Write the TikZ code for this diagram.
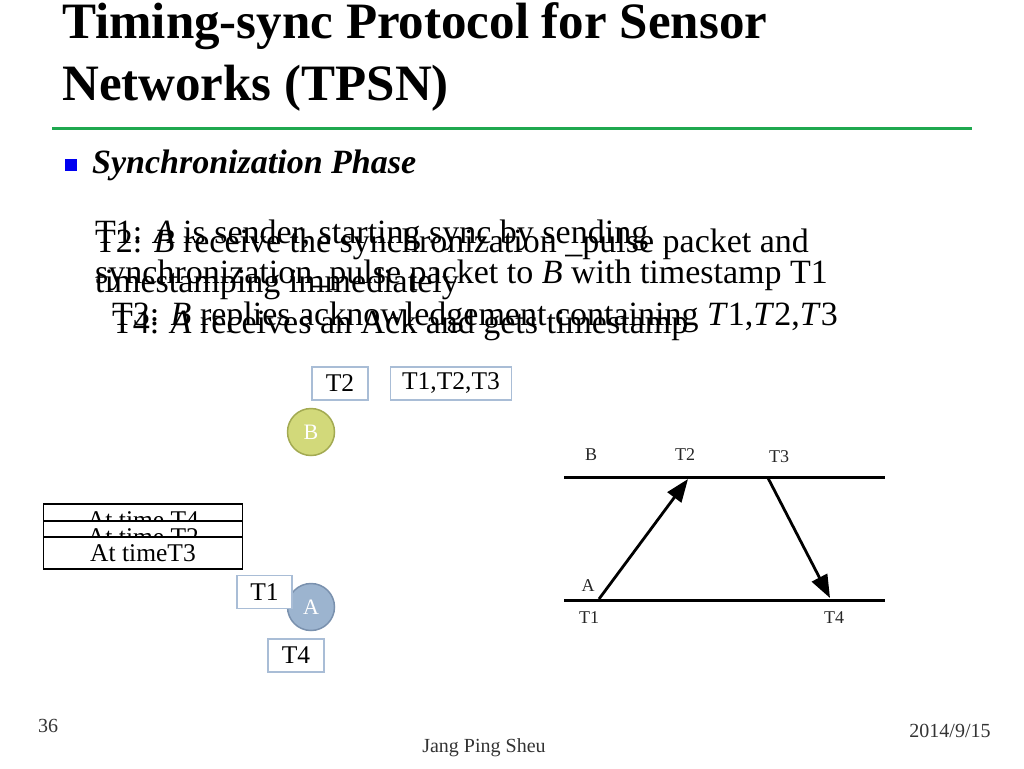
\documentclass[tikz,border=0pt]{standalone}
\usepackage{fontspec}
\setmainfont{Liberation Serif}
\usetikzlibrary{arrows.meta}
\definecolor{titlegreen}{HTML}{1FA84F}
\definecolor{bulletblue}{HTML}{0000F0}
\definecolor{boxblue}{HTML}{A9BDD6}
\definecolor{bfill}{HTML}{D2D97A}
\definecolor{bdraw}{HTML}{A3AA52}
\definecolor{afill}{HTML}{9CB4CF}
\definecolor{adraw}{HTML}{7A91AE}
\begin{document}
\begin{tikzpicture}[x=1pt,y=-1pt,
  titletxt/.style={anchor=base west, inner sep=0pt, font=\bfseries\fontsize{51}{61}\selectfont},
  bodytxt/.style={anchor=base west, inner sep=0pt, font=\fontsize{34}{40}\selectfont},
  stampbox/.style={draw=boxblue, line width=1.6pt, fill=white, inner sep=0pt, minimum height=33pt, font=\fontsize{25.5}{30}\selectfont},
  timebox/.style={draw=black, line width=1.6pt, fill=white, inner sep=0pt, minimum width=199pt, minimum height=32pt, font=\fontsize{25.5}{30}\selectfont},
  nodecirc/.style={circle, line width=1.5pt, minimum size=47pt, inner sep=0pt, text=white, font=\fontsize{22}{26}\selectfont},
  lbl/.style={inner sep=0pt, font=\fontsize{18}{21}\selectfont, text=black!85},
  timeline/.style={line width=3pt},
  msg/.style={line width=2.8pt, -{Triangle[length=23pt, width=17pt]}},
  foot/.style={inner sep=0pt, anchor=base, font=\fontsize{20}{24}\selectfont, text=black!80}]
\useasboundingbox (0,0) rectangle (1024,768);

% title
\node[titletxt] (title1) at (62,39) {Timing-sync Protocol for Sensor};
\node[titletxt] (title2) at (62,100) {Networks (TPSN)};
\draw[titlegreen, line width=3pt] (52,128.5) -- (972,128.5);

% bullet
\node[fill=bulletblue, minimum size=12pt, inner sep=0pt] (bullet) at (71,165) {};
\node[anchor=base west, inner sep=0pt, font=\bfseries\itshape\fontsize{34}{40}\selectfont] (phase) at (92,173) {Synchronization Phase};

% overlapping animation texts
\node[bodytxt] (t1a) at (95,243) {T1: \textit{A} is sender, starting sync by sending};
\node[bodytxt] (t1b) at (95,283) {synchronization\_pulse packet to \textit{B} with timestamp T1};
\node[bodytxt] (t2a) at (95,252) {T2: \textit{B} receive the synchronization \_pulse packet and};
\node[bodytxt] (t2b) at (95,292) {timestamping immediately};
\node[bodytxt] (t3) at (112,325) {T3: \textit{B} replies acknowledgement containing \textit{T}1,\textit{T}2,\textit{T}3};
\node[bodytxt] (t4) at (112,333) {T4: \textit{A} receives an Ack and gets timestamp};

% timestamp boxes near B
\node[stampbox, minimum width=56pt] (bt2) at (340,383.5) {T2};
\node[stampbox, minimum width=121pt] (bt123) at (451,383.5) {T1,T2,T3};
\node[nodecirc, fill=bfill, draw=bdraw] (B) at (311,432) {B};

% "At time" boxes
\node[timebox] (at4) at (143,520) {At time T4};
\node[timebox] (at2) at (143,537) {At time T2};
\node[timebox] (at3) at (143,553) {At timeT3};

% A node and its boxes
\node[nodecirc, fill=afill, draw=adraw] (A) at (311,607) {A};
\node[stampbox, minimum width=55pt] (bt1) at (264.5,592) {T1};
\node[stampbox, minimum width=56pt] (bt4) at (296,655.5) {T4};

% timing diagram
\coordinate (Bl) at (564,477.5);
\coordinate (Br) at (885,477.5);
\coordinate (Al) at (564,600.5);
\coordinate (Ar) at (885,600.5);
\draw[timeline] (Bl) -- (Br);
\draw[timeline] (Al) -- (Ar);
\coordinate (s1) at (599,599);
\coordinate (e1) at (688,479);
\coordinate (s3) at (768,478);
\coordinate (e4) at (830,598);
\draw[msg] (s1) -- (e1);
\draw[msg] (s3) -- (e4);
\node[lbl] (lB) at (591,455) {B};
\node[lbl] (lT2) at (685,455) {T2};
\node[lbl] (lT3) at (779,457) {T3};
\node[lbl] (lA) at (588,586) {A};
\node[lbl] (lT1) at (589,618) {T1};
\node[lbl] (lT4) at (834,618) {T4};

% footer
\node[foot] (page) at (48,732) {36};
\node[foot] (author) at (484,752) {Jang Ping Sheu};
\node[foot] (date) at (950,737) {2014/9/15};
\end{tikzpicture}
\end{document}
